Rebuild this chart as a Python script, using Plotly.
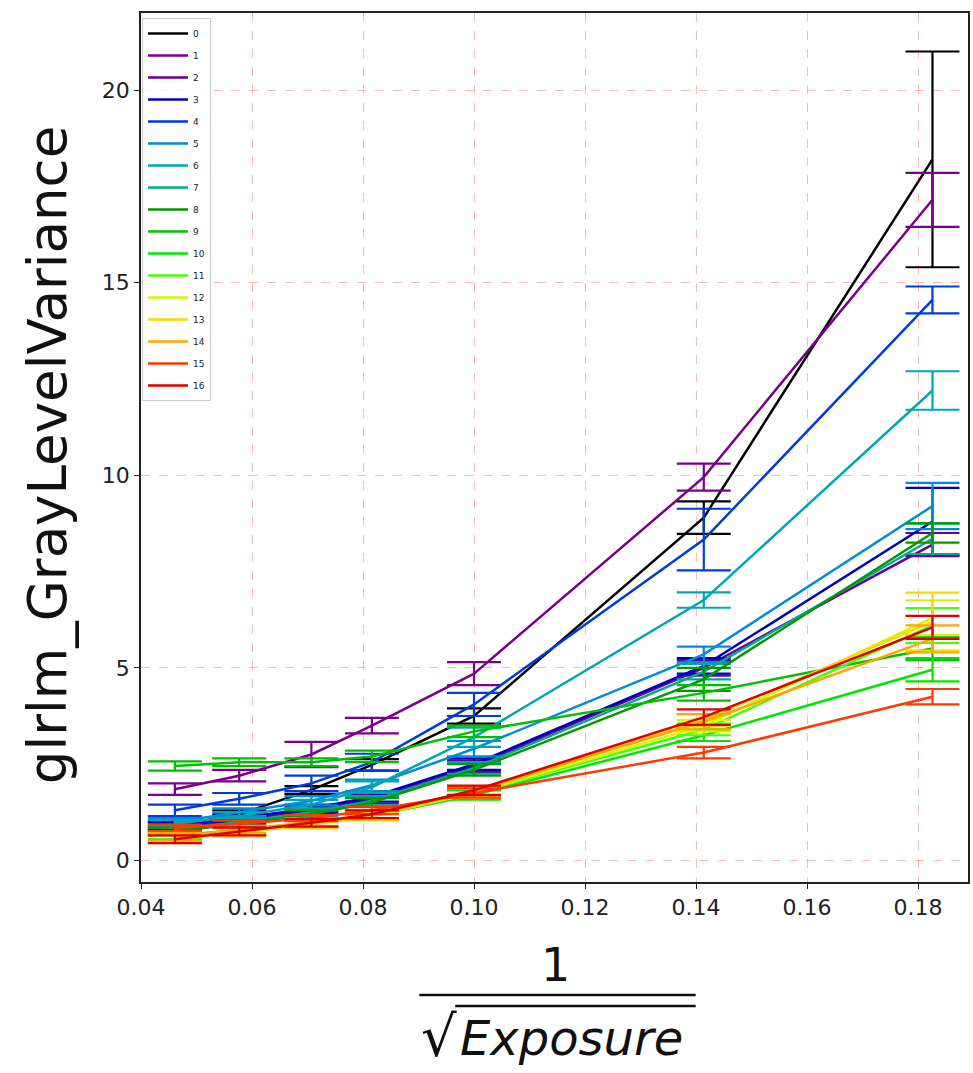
import plotly.graph_objects as go

# ---------------- data ----------------
x_vals = [0.0461, 0.0577, 0.0707, 0.0816, 0.1000, 0.1414, 0.1826]

series_names = [str(i) for i in range(17)]

s0 = [0.90, 1.20, 1.83, 2.48, 3.75, 8.90, 18.20]
e0 = [0.10, 0.10, 0.10, 0.15, 0.20, 0.42, 2.80]
s1 = [1.85, 2.20, 2.75, 3.50, 4.85, 9.95, 17.15]
e1 = [0.15, 0.15, 0.33, 0.20, 0.30, 0.35, 0.70]
s2 = [0.85, 1.05, 1.30, 1.60, 2.45, 5.00, 8.20]
e2 = [0.10, 0.10, 0.10, 0.12, 0.15, 0.20, 0.30]
s3 = [0.90, 1.10, 1.35, 1.65, 2.50, 5.05, 8.80]
e3 = [0.10, 0.10, 0.10, 0.12, 0.15, 0.20, 0.87]
s4 = [1.30, 1.60, 2.00, 2.55, 4.05, 8.33, 14.55]
e4 = [0.15, 0.15, 0.20, 0.22, 0.30, 0.80, 0.35]
s5 = [1.00, 1.25, 1.55, 1.95, 2.90, 5.35, 9.20]
e5 = [0.10, 0.10, 0.12, 0.15, 0.20, 0.20, 0.60]
s6 = [0.95, 1.15, 1.45, 1.90, 3.20, 6.76, 12.20]
e6 = [0.10, 0.10, 0.12, 0.15, 0.25, 0.20, 0.50]
s7 = [0.80, 1.00, 1.25, 1.55, 2.40, 4.90, 8.35]
e7 = [0.10, 0.10, 0.10, 0.12, 0.15, 0.20, 0.40]
s8 = [0.75, 0.95, 1.20, 1.50, 2.35, 4.70, 8.50]
e8 = [0.10, 0.10, 0.10, 0.12, 0.15, 0.30, 0.25]
s9 = [2.45, 2.55, 2.55, 2.70, 3.35, 4.35, 5.50]
e9 = [0.12, 0.10, 0.10, 0.15, 0.15, 0.20, 0.30]
s10 = [0.65, 0.80, 0.95, 1.15, 1.70, 3.25, 4.95]
e10 = [0.10, 0.10, 0.10, 0.10, 0.12, 0.15, 0.30]
s11 = [0.60, 0.78, 0.97, 1.18, 1.75, 3.40, 6.10]
e11 = [0.10, 0.10, 0.10, 0.10, 0.12, 0.15, 0.45]
s12 = [0.60, 0.75, 0.95, 1.15, 1.75, 3.50, 6.30]
e12 = [0.10, 0.10, 0.10, 0.10, 0.12, 0.15, 0.45]
s13 = [0.55, 0.72, 0.93, 1.14, 1.78, 3.65, 6.20]
e13 = [0.10, 0.10, 0.10, 0.10, 0.12, 0.15, 0.75]
s14 = [0.62, 0.80, 1.00, 1.20, 1.80, 3.60, 5.75]
e14 = [0.10, 0.10, 0.10, 0.10, 0.12, 0.20, 0.35]
s15 = [0.85, 0.95, 1.10, 1.30, 1.75, 2.80, 4.25]
e15 = [0.08, 0.08, 0.08, 0.10, 0.12, 0.15, 0.20]
s16 = [0.55, 0.75, 0.98, 1.20, 1.82, 3.72, 6.05]
e16 = [0.10, 0.10, 0.10, 0.10, 0.12, 0.20, 0.30]

series_values = [s0, s1, s2, s3, s4, s5, s6, s7, s8, s9, s10, s11, s12, s13, s14, s15, s16]
series_errors = [e0, e1, e2, e3, e4, e5, e6, e7, e8, e9, e10, e11, e12, e13, e14, e15, e16]

colors = ["#000000", "#79008a", "#66009d", "#0000bd", "#003cdd", "#008cdd",
          "#00a6b7", "#00aa8c", "#009900", "#00bf00", "#00e600", "#46ff00",
          "#d4f600", "#f9d900", "#ffa600", "#ff3a00", "#dd0000"]

x_ticks = [0.04, 0.06, 0.08, 0.10, 0.12, 0.14, 0.16, 0.18]
y_ticks = [0, 5, 10, 15, 20]

# ---------------- figure ----------------
W, H = 973, 1073
L, R, T, B = 141, 970, 13, 882


def px(xpix):
    return (xpix - L) / (R - L)


def py(ypix):
    return (B - ypix) / (B - T)


fig = go.Figure()
for name, vals, errs, col in zip(series_names, series_values, series_errors, colors):
    fig.add_trace(go.Scatter(
        x=x_vals, y=vals, name=name, mode="lines",
        line=dict(color=col, width=2.5),
        legendgroup=name,
        error_y=dict(type="data", array=errs, visible=True,
                     color=col, thickness=2.2, width=27),
    ))

font_family = "DejaVu Sans"

fig.update_layout(
    width=W, height=H,
    margin=dict(l=L, r=W - R, t=T, b=H - B),
    paper_bgcolor="white", plot_bgcolor="white",
    font=dict(family=font_family, color="#222222"),
    showlegend=True,
    legend=dict(
        x=px(142), y=py(18), xanchor="left", yanchor="top",
        bgcolor="rgba(255,255,255,0.8)", bordercolor="#cccccc", borderwidth=1,
        font=dict(size=9, family=font_family, color="#222222"),
        tracegroupgap=3, itemwidth=40,
    ),
    xaxis=dict(
        range=[0.04, 0.189], tickvals=x_ticks, tickformat=".2f",
        showgrid=True, gridcolor="rgba(255,0,0,0.28)", griddash="dash", gridwidth=1,
        zeroline=False, showline=True, linecolor="#222222", linewidth=1.5, mirror=True,
        ticks="outside", ticklen=5, tickcolor="#222222",
        tickfont=dict(size=22, family=font_family, color="#222222"),
    ),
    yaxis=dict(
        range=[-0.56, 22.0], tickvals=y_ticks,
        showgrid=True, gridcolor="rgba(255,0,0,0.28)", griddash="dash", gridwidth=1,
        zeroline=False, showline=True, linecolor="#222222", linewidth=1.5, mirror=True,
        ticks="outside", ticklen=5, tickcolor="#222222",
        tickfont=dict(size=22, family=font_family, color="#222222"),
    ),
)

# y-axis title
fig.add_annotation(
    text="glrlm_GrayLevelVariance", textangle=-90,
    x=px(48), y=py(455), xref="paper", yref="paper",
    xanchor="center", yanchor="middle", showarrow=False,
    font=dict(size=53, family=font_family, color="#111111"),
)

# x-axis title as a fraction 1 / sqrt(Exposure)
fig.add_annotation(
    text="1", x=px(557), y=py(965), xref="paper", yref="paper",
    xanchor="center", yanchor="middle", showarrow=False,
    font=dict(size=46, family=font_family, color="#111111"),
)
fig.add_annotation(
    text="√", x=px(440), y=py(1036), xref="paper", yref="paper",
    xanchor="center", yanchor="middle", showarrow=False,
    font=dict(size=56, family=font_family, color="#111111"),
)
fig.add_annotation(
    text="<i>Exposure</i>", x=px(573), y=py(1038), xref="paper", yref="paper",
    xanchor="center", yanchor="middle", showarrow=False,
    font=dict(size=48, family=font_family, color="#111111"),
)
fig.add_shape(type="line", xref="paper", yref="paper",
              x0=px(420), x1=px(697), y0=py(995), y1=py(995),
              line=dict(color="#111111", width=2.5))
fig.add_shape(type="line", xref="paper", yref="paper",
              x0=px(456), x1=px(697), y0=py(1006), y1=py(1006),
              line=dict(color="#111111", width=2.5))

fig.write_html("out.html", config={"displayModeBar": False},
               post_script="document.body.style.margin='0';document.body.style.padding='0';")
